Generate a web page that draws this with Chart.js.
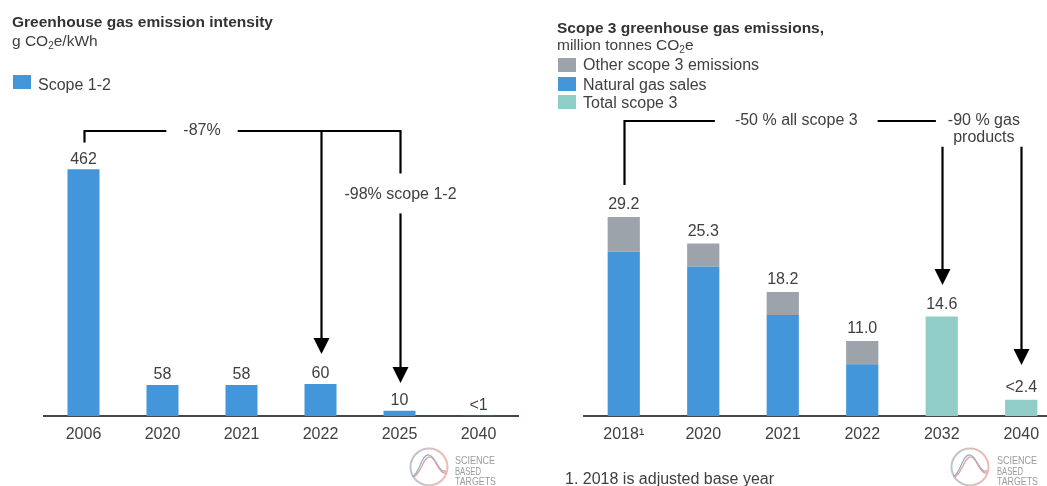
<!DOCTYPE html>
<html><head><meta charset="utf-8">
<script src="https://cdn.jsdelivr.net/npm/chart.js@4.4.1/dist/chart.umd.min.js"></script>
<style>
html,body{margin:0;padding:0;width:1047px;height:486px;overflow:hidden;background:#fff;font-family:"Liberation Sans",Arial,sans-serif;color:#404040;}
.abs{position:absolute;white-space:nowrap;}
.title{font-weight:bold;font-size:15.5px;line-height:18px;color:#333;}
.sub{font-size:15.5px;line-height:18px;color:#404040;}
.sub sub{font-size:10px;vertical-align:-3px;line-height:0;}
.leg{font-size:16px;line-height:18px;color:#404040;}
.sw{position:absolute;width:18px;height:14px;}
</style></head><body>
<div style="position:absolute;left:0;top:0;width:540px;height:486px"><canvas id="left" width="540" height="486"></canvas></div>
<div style="position:absolute;left:540px;top:0;width:540px;height:486px"><canvas id="right" width="540" height="486"></canvas></div>

<div class="abs title" style="left:12px;top:13px">Greenhouse gas emission intensity</div>
<div class="abs sub" style="left:12px;top:32px">g CO<sub>2</sub>e/kWh</div>
<div class="sw" style="left:13px;top:75px;background:#4296d9"></div>
<div class="abs leg" style="left:38px;top:76px">Scope 1-2</div>

<div class="abs title" style="left:557px;top:19px">Scope 3 greenhouse gas emissions,</div>
<div class="abs sub" style="left:557px;top:36px">million tonnes CO<sub>2</sub>e</div>
<div class="sw" style="left:558px;top:58px;background:#9ca3ab"></div>
<div class="abs leg" style="left:583px;top:56px">Other scope 3 emissions</div>
<div class="sw" style="left:558px;top:77px;background:#4296d9"></div>
<div class="abs leg" style="left:583px;top:76px">Natural gas sales</div>
<div class="sw" style="left:558px;top:95px;background:#8fcdc6"></div>
<div class="abs leg" style="left:583px;top:94px">Total scope 3</div>

<div class="abs leg" style="left:565px;top:470px">1. 2018 is adjusted base year</div>

<svg class="abs" style="left:405px;top:446px" width="100" height="42">
 <defs><linearGradient id="g1" x1="0" x2="1" y1="0" y2="0"><stop offset="0" stop-color="#b9c6cf"/><stop offset="1" stop-color="#f2b9b2"/></linearGradient></defs>
 <circle cx="24" cy="21" r="18.5" fill="none" stroke="url(#g1)" stroke-width="2"/>
 <path d="M7,30 C14,30 16,8 24,9 C31,10 33,27 41,25" fill="none" stroke="#7fb0cf" stroke-width="1.2"/>
 <path d="M8,31 C15,31 18,10 25,11 C31,12 34,29 41,27" fill="none" stroke="#e89a96" stroke-width="1.2"/>
 <g font-family="Liberation Sans, Arial" font-size="11.5" fill="#9a9a9a">
  <text x="50" y="18" textLength="40" lengthAdjust="spacingAndGlyphs">SCIENCE</text>
  <text x="50" y="28.5" textLength="26" lengthAdjust="spacingAndGlyphs">BASED</text>
  <text x="50" y="39" textLength="41" lengthAdjust="spacingAndGlyphs">TARGETS</text>
 </g>
</svg>
<svg class="abs" style="left:946px;top:446px" width="100" height="42">
 <defs><linearGradient id="g2" x1="0" x2="1" y1="0" y2="0"><stop offset="0" stop-color="#b9c6cf"/><stop offset="1" stop-color="#f2b9b2"/></linearGradient></defs>
 <circle cx="24" cy="21" r="18.5" fill="none" stroke="url(#g2)" stroke-width="2"/>
 <path d="M7,30 C14,30 16,8 24,9 C31,10 33,27 41,25" fill="none" stroke="#7fb0cf" stroke-width="1.2"/>
 <path d="M8,31 C15,31 18,10 25,11 C31,12 34,29 41,27" fill="none" stroke="#e89a96" stroke-width="1.2"/>
 <g font-family="Liberation Sans, Arial" font-size="11.5" fill="#9a9a9a">
  <text x="51" y="18" textLength="40" lengthAdjust="spacingAndGlyphs">SCIENCE</text>
  <text x="51" y="28.5" textLength="26" lengthAdjust="spacingAndGlyphs">BASED</text>
  <text x="51" y="39" textLength="41" lengthAdjust="spacingAndGlyphs">TARGETS</text>
 </g>
</svg>

<script>
// ---- Data ----
const years1 = ['2006','2020','2021','2022','2025','2040'];
const intensity = [462, 58, 58, 60, 10, 0.5];
const intensityLabels = ['462','58','58','60','10','<1'];

const years2 = ['2018\u00B9','2020','2021','2022','2032','2040'];
const naturalGas = [24.1, 21.9, 14.8, 7.6, null, null];
const otherScope3 = [5.1, 3.4, 3.4, 3.4, null, null];
const totalScope3 = [null, null, null, null, 14.6, 2.4];
const scope3Labels = ['29.2','25.3','18.2','11.0','14.6','<2.4'];

// ---- Styles ----
const FONT = '"Liberation Sans", Arial, sans-serif';
const TXT = '#404040';
const BLUE = '#4296d9', GREY = '#9ca3ab', TEAL = '#8fcdc6';
const AXIS = '#3d4852';

function valueLabelsPlugin(texts, totals, gap){
  return {
    id:'valueLabels',
    afterDatasetsDraw(chart){
      const {ctx, scales:{x,y}} = chart;
      ctx.save();
      ctx.font = '16px ' + FONT;
      ctx.fillStyle = TXT;
      ctx.textAlign = 'center';
      ctx.textBaseline = 'bottom';
      texts.forEach((t,i)=>{
        ctx.fillText(t, x.getPixelForValue(i), y.getPixelForValue(totals[i]) - gap);
      });
      ctx.restore();
    }
  };
}

function downArrow(ctx, x, y0, y1){
  ctx.beginPath(); ctx.moveTo(x, y0); ctx.lineTo(x, y1 - 12); ctx.stroke();
  ctx.beginPath(); ctx.moveTo(x - 8, y1 - 16); ctx.lineTo(x + 8, y1 - 16); ctx.lineTo(x, y1); ctx.closePath(); ctx.fill();
}

const leftAnno = {
  id:'leftAnno',
  afterDraw(chart){
    const {ctx, scales:{x,y}} = chart;
    const X = i => Math.round(x.getPixelForValue(i)) + 0.5;
    const yb = Math.round(y.getPixelForValue(533));
    ctx.save();
    ctx.strokeStyle = '#000'; ctx.fillStyle = '#000'; ctx.lineWidth = 2.2; ctx.lineJoin='miter';
    ctx.font = '16px ' + FONT;
    const t1 = '-87%', tx = x.getPixelForValue(1.5), hw = ctx.measureText(t1).width/2 + 17;
    ctx.beginPath(); ctx.moveTo(X(0), y.getPixelForValue(512)); ctx.lineTo(X(0), yb); ctx.lineTo(tx - hw, yb); ctx.stroke();
    const yt = y.getPixelForValue(415);
    ctx.beginPath(); ctx.moveTo(tx + hw, yb); ctx.lineTo(X(4), yb); ctx.lineTo(X(4), yt - 21); ctx.stroke();
    downArrow(ctx, X(3), yb, y.getPixelForValue(116));
    downArrow(ctx, X(4), yt + 19, y.getPixelForValue(62));
    ctx.fillStyle = TXT; ctx.textAlign='center'; ctx.textBaseline='middle';
    ctx.fillText(t1, tx, yb);
    ctx.fillText('-98% scope 1-2', X(4), yt);
    ctx.restore();
  }
};

const rightAnno = {
  id:'rightAnno',
  afterDraw(chart){
    const {ctx, scales:{x,y}} = chart;
    const X = i => Math.round(x.getPixelForValue(i)) + 0.5;
    const yb = Math.round(y.getPixelForValue(43.3));
    ctx.save();
    ctx.strokeStyle = '#000'; ctx.fillStyle = '#000'; ctx.lineWidth = 2.2;
    ctx.font = '16px ' + FONT;
    const t1 = '-50 % all scope 3', tx = x.getPixelForValue(2.17), hw = ctx.measureText(t1).width/2 + 20;
    ctx.beginPath(); ctx.moveTo(X(0), y.getPixelForValue(33.9)); ctx.lineTo(X(0), yb); ctx.lineTo(tx - hw, yb); ctx.stroke();
    const t2x = x.getPixelForValue(4.53);
    ctx.beginPath(); ctx.moveTo(tx + hw, yb); ctx.lineTo(t2x - 48, yb); ctx.stroke();
    const ys = y.getPixelForValue(39.5);
    downArrow(ctx, X(4), ys, y.getPixelForValue(19.2));
    downArrow(ctx, X(5), ys, y.getPixelForValue(7.5));
    ctx.fillStyle = TXT; ctx.textAlign='center'; ctx.textBaseline='middle';
    ctx.fillText(t1, tx, yb);
    ctx.fillText('-90 % gas', t2x, yb);
    ctx.fillText('products', t2x, yb + 17);
    ctx.restore();
  }
};

const xAxis = (labels) => ({
  grid:{display:false, drawTicks:false},
  border:{display:true, color:AXIS, width:2},
  ticks:{color:TXT, font:{family:FONT, size:16}, padding:9, maxRotation:0, autoSkip:false},
  afterFit(s){ s.height = 70; }
});

new Chart(document.getElementById('left'), {
  type:'bar',
  data:{labels:years1, datasets:[{label:'Scope 1-2', data:intensity, backgroundColor:BLUE, borderWidth:0, categoryPercentage:1, barPercentage:0.405}]},
  options:{
    responsive:false, animation:false, devicePixelRatio:1,
    layout:{padding:{left:44, right:22, top:149, bottom:0}},
    plugins:{legend:{display:false}, tooltip:{enabled:false}},
    scales:{ x:xAxis(years1), y:{display:false, min:0, max:500} }
  },
  plugins:[valueLabelsPlugin(intensityLabels, intensity, 2), leftAnno]
});

const totals = years2.map((_,i)=>(naturalGas[i]||0)+(otherScope3[i]||0)+(totalScope3[i]||0));
new Chart(document.getElementById('right'), {
  type:'bar',
  data:{labels:years2, datasets:[
    {label:'Natural gas sales', data:naturalGas, backgroundColor:BLUE, borderWidth:0, categoryPercentage:1, barPercentage:0.405},
    {label:'Other scope 3 emissions', data:otherScope3, backgroundColor:GREY, borderWidth:0, categoryPercentage:1, barPercentage:0.405},
    {label:'Total scope 3', data:totalScope3, backgroundColor:TEAL, borderWidth:0, categoryPercentage:1, barPercentage:0.405}
  ]},
  options:{
    responsive:false, animation:false, devicePixelRatio:1,
    layout:{padding:{left:44, right:19, top:211.5, bottom:0}},
    plugins:{legend:{display:false}, tooltip:{enabled:false}},
    scales:{ x:Object.assign(xAxis(years2), {stacked:true}), y:{display:false, stacked:true, min:0, max:30} }
  },
  plugins:[valueLabelsPlugin(scope3Labels, totals, 4), rightAnno]
});
</script>
</body></html>
